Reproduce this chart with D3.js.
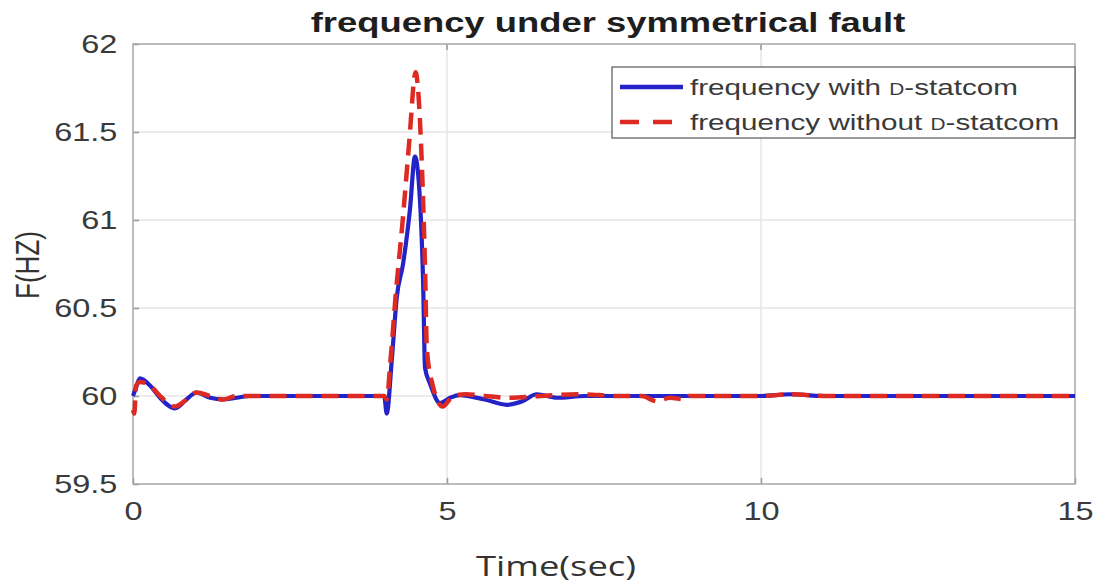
<!DOCTYPE html>
<html>
<head>
<meta charset="utf-8">
<script src="https://cdn.jsdelivr.net/npm/d3@7"></script>
<style>
body{margin:0;background:#fff;}
svg{display:block;}
</style>
</head>
<body>
<script>
// time axis (sec) and frequency (Hz)
var tWith=[0,0.05,0.11,0.27,0.43,0.67,0.85,1.01,1.23,1.43,1.65,1.86,2.5,4.0,4.04,4.12,4.2,4.3,4.41,4.49,4.57,4.62,4.65,4.73,4.89,5.05,5.2,5.6,5.95,6.2,6.43,6.75,7.2,8,9.5,10.0,10.46,11,12,15];
var fWith=[60.0,60.05,60.1,60.06,59.99,59.93,59.98,60.02,59.99,59.98,59.99,60.0,60.0,60.0,59.9,60.2,60.56,60.75,61.06,61.36,61.11,60.64,60.16,60.07,59.96,59.99,60.005,59.98,59.95,59.97,60.01,59.99,60.0,60.0,60.0,60.0,60.01,60.0,60.0,60.0];

var tWithout=[0,0.02,0.05,0.11,0.27,0.43,0.67,0.85,1.01,1.23,1.43,1.65,1.86,2.5,4.0,4.04,4.1,4.18,4.3,4.4,4.5,4.53,4.59,4.65,4.68,4.78,4.84,4.93,5.1,5.3,5.6,6.0,6.5,7.1,7.74,8.1,8.34,8.55,8.79,8.85,9.2,10.0,10.5,11,12,15];
var fWithout=[59.92,59.9,60.06,60.08,60.06,60.0,59.94,59.98,60.02,60.0,59.98,60.0,60.0,60.0,60.0,59.98,60.2,60.56,61.02,61.45,61.84,61.78,61.4,60.73,60.26,60.05,59.98,59.94,60.0,60.01,60.0,59.99,60.0,60.01,60.0,60.0,59.97,59.99,59.98,60.0,60.0,60.0,60.01,60.0,60.0,60.0];

var xTicks=[0,5,10,15];
var yTicks=[59.5,60,60.5,61,61.5,62];
var xGrid=[5,10];
var yGrid=[60,60.5,61,61.5];

var seriesNames=["frequency with ","frequency without "];
var titleText="frequency under symmetrical fault";
var xLabel="Time(sec)";
var yLabel="F(HZ)";

var W=1097,H=586;
var margin={top:44,right:22,bottom:102,left:133};
var SX=1.3; // the picture is stretched sideways, text too

var svg=d3.select("body").append("svg").attr("width",W).attr("height",H);

var x=d3.scaleLinear().domain([0,15]).range([margin.left,W-margin.right]);
var y=d3.scaleLinear().domain([59.5,62]).range([H-margin.bottom,margin.top]);

// grid
svg.append("g").selectAll("line").data(yGrid).enter().append("line")
	.attr("x1",x(0)).attr("x2",x(15))
	.attr("y1",function(d){return y(d);}).attr("y2",function(d){return y(d);})
	.attr("stroke","#e6e6e6").attr("stroke-width",1.5);
svg.append("g").selectAll("line").data(xGrid).enter().append("line")
	.attr("y1",y(59.5)).attr("y2",y(62))
	.attr("x1",function(d){return x(d);}).attr("x2",function(d){return x(d);})
	.attr("stroke","#e6e6e6").attr("stroke-width",1.5);

// axes, ticks pointing in like matlab
var xAxis=d3.axisBottom(x).tickValues(xTicks).tickSize(-6).tickPadding(18).tickFormat(function(d){return d;});
var yAxis=d3.axisLeft(y).tickValues(yTicks).tickSize(-6).tickPadding(12).tickFormat(function(d){return d;});

var gx=svg.append("g").attr("transform","translate(0,"+y(59.5)+")").call(xAxis);
var gy=svg.append("g").attr("transform","translate("+x(0)+",0)").call(yAxis);
[gx,gy].forEach(function(g){
	g.select(".domain").remove();
	g.selectAll("line").attr("stroke","#999").attr("stroke-width",1.5);
	g.selectAll("text").attr("fill","#3a3a3a")
		.style("font-family","'Liberation Sans',Arial,sans-serif").style("font-size","25px");
});
gx.selectAll("text").attr("dy","0.71em").attr("transform","scale("+SX+",1)");
gy.selectAll("text").attr("transform","scale("+SX+",1)");
// top/right ticks
svg.append("g").selectAll("line").data(xTicks.slice(1,3)).enter().append("line")
	.attr("x1",function(d){return x(d);}).attr("x2",function(d){return x(d);})
	.attr("y1",y(62)).attr("y2",y(62)+6).attr("stroke","#999").attr("stroke-width",1.5);

// box
svg.append("rect").attr("x",x(0)).attr("y",y(62))
	.attr("width",x(15)-x(0)).attr("height",y(59.5)-y(62))
	.attr("fill","none").attr("stroke","#a6a6a6").attr("stroke-width",1.5);

var line=d3.line().curve(d3.curveMonotoneX)
	.x(function(d){return x(d[0]);}).y(function(d){return y(d[1]);});

var blue="#2323c8", red="#dd2a22";
svg.append("path").datum(d3.zip(tWith,fWith)).attr("d",line)
	.attr("fill","none").attr("stroke",blue).attr("stroke-width",4.2).attr("stroke-linejoin","round");
svg.append("path").datum(d3.zip(tWithout,fWithout)).attr("d",line)
	.attr("fill","none").attr("stroke",red).attr("stroke-width",4.5)
	.attr("stroke-dasharray","17,9");

// text with sideways stretch
function stext(px,py,txt,anchor,size,weight,family,color){
	return svg.append("text").attr("transform","translate("+px+","+py+") scale("+SX+",1)")
		.attr("text-anchor",anchor).style("font-size",size+"px").style("font-weight",weight)
		.style("font-family",family).attr("fill",color).text(txt);
}

stext((x(0)+x(15))/2+4,32,titleText,"middle",28,"bold","'Liberation Sans',Arial,sans-serif","#1e1e1e");
stext((x(0)+x(15))/2-48,576,xLabel,"middle",28,"normal","'Open Sans',sans-serif","#333");

svg.append("text").attr("transform","translate(39,265) scale("+SX+",1) rotate(-90)")
	.attr("text-anchor","middle").style("font-size","26px")
	.style("font-family","'Liberation Sans',Arial,sans-serif").attr("fill","#333").text(yLabel);

// legend
var lg=svg.append("g");
lg.append("rect").attr("x",612).attr("y",67).attr("width",463).attr("height",71)
	.attr("fill","#fff").attr("stroke","#555").attr("stroke-width",1.2);
var colors=[blue,red];
seriesNames.forEach(function(s,i){
	var ly=87+i*35;
	lg.append("line").attr("x1",620).attr("x2",683).attr("y1",ly).attr("y2",ly)
		.attr("stroke",colors[i]).attr("stroke-width",4.5)
		.attr("stroke-dasharray",i==1?"19,14":null);
	var t=lg.append("text").attr("transform","translate(690,"+(ly+8)+") scale("+SX+",1)")
		.style("font-size","22.8px").style("font-family","'Liberation Sans',Arial,sans-serif").attr("fill","#3a3a3a");
	t.append("tspan").text(s);
	t.append("tspan").style("font-size","16px").text("D");
	t.append("tspan").text("-statcom");
});
</script>
</body>
</html>
